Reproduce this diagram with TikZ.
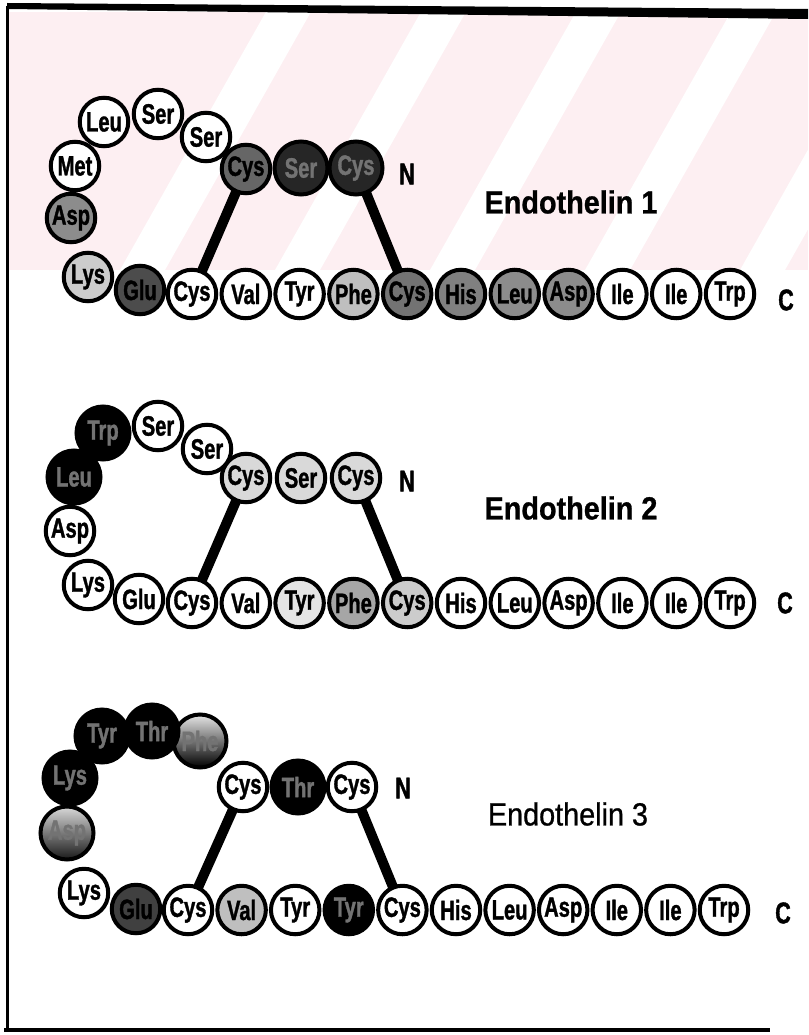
\documentclass[tikz,border=0pt]{standalone}
\usepackage{fontspec}
\newfontfamily\resfont[FakeStretch=0.72, FakeBold=1.2]{Liberation Sans}
\newfontfamily\titlefont[FakeStretch=0.9, FakeBold=0.8]{Liberation Sans}
\usetikzlibrary{backgrounds}
\definecolor{wmpink}{RGB}{253,239,242}

\begin{document}
\begin{tikzpicture}[
  x=1pt, y=-1pt,
  res/.style={circle, draw, line width=4pt, minimum size=48.5pt, inner sep=0pt, fill=white,
    font=\fontsize{28}{28}\resfont\bfseries},
  dark/.style={res, minimum size=53pt, fill=black, text=black!55},
  bond/.style={line width=10pt},
  tag/.style={inner sep=0pt, font=\fontsize{30}{30}\resfont\bfseries},
  title/.style={inner sep=0pt, font=\fontsize{32}{32}\titlefont\bfseries}
]
  \useasboundingbox (0,0) rectangle (808,1035);

  % faint stamp behind the first panel
  \begin{pgfonlayer}{background}
    \begin{scope}
      \clip (9,12) rectangle (808,270);
      \fill[wmpink] (9,12) rectangle (808,270);
      \foreach \x in {120,275,430,585,740}
        \fill[white] (\x,270) -- ++(45,0) -- ++(147,-260) -- ++(-45,0) -- cycle;
    \end{scope}
  \end{pgfonlayer}

  % frame
  \fill (7,3) -- (808,9) -- (808,19) -- (7,9) -- cycle;
  \draw[line width=3pt] (7,6) -- (7,1031);
  \draw[line width=4pt] (4,1030) -- (770,1030);

  % Endothelin 1
  \node[dark, fill=black!85] (e1-1) at (356,168) {Cys};
  \node[dark, fill=black!85] (e1-2) at (301,168) {Ser};
  \node[res, fill=black!60] (e1-3) at (246,169) {Cys};
  \node[res] (e1-4) at (206,137) {Ser};
  \node[res] (e1-5) at (158,114) {Ser};
  \node[res] (e1-6) at (104,122) {Leu};
  \node[res] (e1-7) at (75,166) {Met};
  \node[res, fill=black!45] (e1-8) at (71,218) {Asp};
  \node[res, fill=black!20] (e1-9) at (88,277) {Lys};
  \node[res, fill=black!70] (e1-10) at (140,290) {Glu};
  \foreach \aa/\tone/\ink [count=\i from 11] in {Cys/0/black, Val/0/black, Tyr/0/black,
      Phe/25/black, Cys/55/black, His/50/black, Leu/45/black, Asp/45/black,
      Ile/0/black, Ile/0/black, Trp/0/black}
    \node[res, fill=black!\tone, text=\ink] (e1-\i) at ({192+53.8*(\i-11)},294) {\aa};
  \node[tag] (n1) at (407,174) {N};
  \node[tag] (c1) at (786,300) {C};
  \node[title] (t1) at (571,202) {Endothelin 1};
  \begin{pgfonlayer}{background}
    \draw[bond] (e1-3.center) -- (e1-11.center);
    \draw[bond] (e1-1.center) -- (e1-15.center);
  \end{pgfonlayer}

  % Endothelin 2
  \begin{scope}[yshift=-309pt]
    \node[res, fill=black!15] (e2-1) at (356,169) {Cys};
    \node[res, fill=black!15] (e2-2) at (301,169) {Ser};
    \node[res, fill=black!15] (e2-3) at (246,169) {Cys};
    \node[res] (e2-4) at (207,140) {Ser};
    \node[res] (e2-5) at (158,117) {Ser};
    \node[dark] (e2-6) at (103,124) {Trp};
    \node[dark] (e2-7) at (74,168) {Leu};
    \node[res] (e2-8) at (70,222) {Asp};
    \node[res] (e2-9) at (88,276) {Lys};
    \node[res] (e2-10) at (139,290) {Glu};
    \foreach \aa/\tone/\ink [count=\i from 11] in {Cys/0/black, Val/0/black, Tyr/10/black,
        Phe/35/black, Cys/20/black, His/0/black, Leu/0/black, Asp/0/black,
        Ile/0/black, Ile/0/black, Trp/0/black}
      \node[res, fill=black!\tone, text=\ink] (e2-\i) at ({192+53.8*(\i-11)},294) {\aa};
    \node[tag] (n2) at (407,172) {N};
    \node[tag] (c2) at (785,294) {C};
    \node[title] (t2) at (571,199) {Endothelin 2};
    \begin{pgfonlayer}{background}
      \draw[bond] (e2-3.center) -- (e2-11.center);
      \draw[bond] (e2-1.center) -- (e2-15.center);
    \end{pgfonlayer}
  \end{scope}

  % Endothelin 3
  \begin{scope}[yshift=-615pt]
    \node[res] (e3-1) at (352,172) {Cys};
    \node[dark] (e3-2) at (298,172) {Thr};
    \node[res] (e3-3) at (243,172) {Cys};
    \node[dark, top color=black!10, bottom color=black] (e3-4) at (200,126) {Phe};
    \node[dark] (e3-5) at (152,116) {Thr};
    \node[dark] (e3-6) at (102,121) {Tyr};
    \node[dark] (e3-7) at (70,163) {Lys};
    \node[dark, top color=black!15, bottom color=black!90] (e3-8) at (67,218) {Asp};
    \node[res] (e3-9) at (84,278) {Lys};
    \node[res, fill=black!75] (e3-10) at (136,294) {Glu};
    \foreach \aa/\tone/\ink [count=\i from 11] in {Cys/0/black, Val/25/black, Tyr/0/black,
        Tyr/100/black!55, Cys/0/black, His/0/black, Leu/0/black, Asp/0/black,
        Ile/0/black, Ile/0/black, Trp/0/black}
      \node[res, fill=black!\tone, text=\ink] (e3-\i) at ({188+53.6*(\i-11)},295) {\aa};
    \node[tag] (n3) at (403,173) {N};
    \node[tag] (c3) at (783,298) {C};
    \node[title, font=\fontsize{32}{32}\titlefont\mdseries] (t3) at (568,199) {Endothelin 3};
    \begin{pgfonlayer}{background}
      \draw[bond] (e3-3.center) -- (e3-11.center);
      \draw[bond] (e3-1.center) -- (e3-15.center);
    \end{pgfonlayer}
  \end{scope}
\end{tikzpicture}
\end{document}
